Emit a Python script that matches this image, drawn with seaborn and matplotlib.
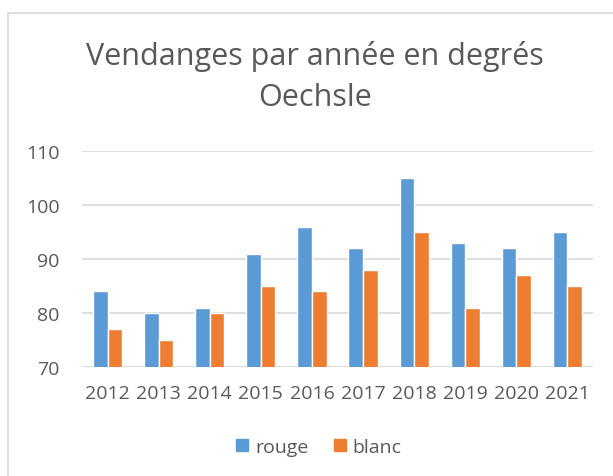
import matplotlib
matplotlib.use("Agg")
import matplotlib.pyplot as plt
from matplotlib.patches import Rectangle
import seaborn as sns
import pandas as pd

years = ["2012", "2013", "2014", "2015", "2016", "2017", "2018", "2019", "2020", "2021"]
rouge = [84, 80, 81, 91, 96, 92, 105, 93, 92, 95]
blanc = [77, 75, 80, 85, 84, 88, 95, 81, 87, 85]
series = ["rouge", "blanc"]
colors = ["#5B9BD5", "#ED7D31"]
title = "Vendanges par année en degrés\nOechsle"

df = pd.DataFrame({
    "année": years * 2,
    "degrés": rouge + blanc,
    "type": ["rouge"] * len(years) + ["blanc"] * len(years),
})

sns.set_theme(style="white")
plt.rcParams["font.family"] = ["Open Sans", "DejaVu Sans"]
text_color = "#595959"
grid_color = "#D9D9D9"

fig = plt.figure(figsize=(6.13, 4.77), dpi=100)
fig.patch.set_facecolor("white")

# chart frame
fig.patches.append(Rectangle((8 / 613, -0.1), 1.2, 1 - 14 / 477 + 0.1,
                             transform=fig.transFigure, fill=False,
                             edgecolor=grid_color, linewidth=1.2, zorder=0))

ax = fig.add_axes([82 / 613, 1 - 368 / 477, (593 - 82) / 613, (368 - 152) / 477])
sns.barplot(data=df, x="année", y="degrés", hue="type", hue_order=series,
            palette=colors, width=0.57, gap=0, saturation=1, ax=ax,
            legend=False, zorder=3)

ax.set_ylim(70, 110)
ax.set_yticks([70, 80, 90, 100, 110])
ax.set_xlim(-0.5, len(years) - 0.5)
ax.yaxis.grid(True, color=grid_color, linewidth=1.2, zorder=0)
ax.set_axisbelow(True)
for s in ax.spines.values():
    s.set_visible(False)
ax.axhline(70, color=grid_color, linewidth=1.2, zorder=1)
ax.set_xlabel("")
ax.set_ylabel("")
ax.tick_params(axis="y", length=0, pad=16, labelsize=14, labelcolor=text_color)
ax.tick_params(axis="x", length=0, pad=12, labelsize=14, labelcolor=text_color)

fig.text(0.514, 1 - 77 / 477, title, ha="center", va="center",
         fontsize=22, color=text_color, linespacing=1.47)

handles = [Rectangle((0, 0), 1, 1, color=c) for c in colors]
fig.legend(handles, series, loc="center", bbox_to_anchor=(0.52, 1 - 448 / 477),
           ncol=2, frameon=False, fontsize=14, handlelength=0.62,
           handleheight=0.62, handletextpad=0.35, columnspacing=1.3,
           labelcolor=text_color)

fig.savefig("out.png", dpi=100, facecolor="white")
